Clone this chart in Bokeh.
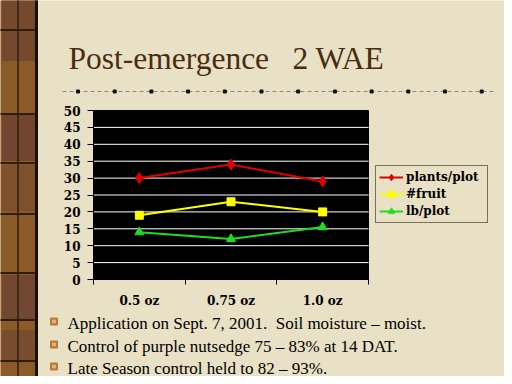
from bokeh.plotting import figure
from bokeh.models import (Range1d, FixedTicker, Legend, LegendItem, LinearAxis)
from bokeh.core.properties import value
from bokeh.embed import file_html
from bokeh.resources import INLINE

# ---- data ----
categories = ["0.5 oz", "0.75 oz", "1.0 oz"]
plants_plot = [30, 34, 29]
fruit = [19, 23, 20]
lb_plot = [14, 12, 15.5]
series_names = ["plants/plot", "#fruit", "lb/plot"]
y_ticks = [0, 5, 10, 15, 20, 25, 30, 35, 40, 45, 50]
title_parts = ["Post-emergence", "2 WAE"]
bullet_texts = [
    "Application on Sept. 7, 2001.\u00a0 Soil moisture \u2013 moist.",
    "Control of purple nutsedge 75 \u2013 83% at 14 DAT.",
    "Late Season control held to 82 \u2013 93%.",
]

# ---- style / layout (picture pixels) ----
BG = "#e8e1c5"
RED = "#e00000"
YELLOW = "#ffff00"
GREEN = "#20dd20"
AXFONT = "DejaVu Serif"
W, H = 504, 376
PL, PR, PT, PB = 93, 368, 110, 279   # chart area in pixels

n = len(categories)
ymin, ymax = y_ticks[0], y_ticks[-1]
kx = (PR - PL) / n
ky = (PB - PT) / (ymax - ymin)
x_range = Range1d(-PL / kx, n + (W - PR) / kx)
y_range = Range1d(ymin - (H - PB) / ky, ymax + PT / ky)

p = figure(width=W, height=H, output_backend="svg", toolbar_location=None,
           x_range=x_range, y_range=y_range,
           x_axis_location=None, y_axis_location=None,
           min_border=0, min_border_left=0, min_border_right=0,
           min_border_top=0, min_border_bottom=0,
           background_fill_color=BG, border_fill_color=BG,
           outline_line_color=None)
p.grid.visible = False
p.extra_x_ranges = {"px": Range1d(0, W)}
p.extra_y_ranges = {"py": Range1d(H, 0)}
PX = dict(x_range_name="px", y_range_name="py")

# ---- decorations (pixel coordinates) ----
p.quad(left=[-20], right=[36], top=[-20], bottom=[400], color="#8a5a28", **PX)
p.quad(left=[2] * 5, right=[34] * 5,
       top=[-20, 115, 165, 275, 330], bottom=[60, 160, 210, 318, 360],
       color=["#6e4530", "#6a4032", "#7a4e2c", "#6c4434", "#734a30"], alpha=0.8, **PX)
p.quad(left=[17], right=[18], top=[-20], bottom=[400], color="#3a2010", alpha=0.7, **PX)
hl = [29, 113, 162, 213, 272, 319, 360]
p.quad(left=[0] * len(hl), right=[36] * len(hl), top=hl, bottom=[y + 1 for y in hl],
       color="#2e1a0c", alpha=0.9, **PX)
p.quad(left=[35], right=[37], top=[-20], bottom=[400], color="#1a0f05", **PX)

p.line(x=[62, 495], y=[91, 91], line_color="#8a8a80", line_width=1, line_dash="4 3", **PX)
dx = [76 + k * 36.7 for k in range(12)]
p.quad(left=dx, right=[x + 3 for x in dx], top=[89.5] * 12, bottom=[92.5] * 12,
       color="#111111", **PX)

p.text(x=[68, 292], y=[58, 58], text=title_parts, text_font=value("Liberation Serif"),
       text_font_size="31.5px", text_color="#4a2c10", text_baseline="alphabetic", **PX)

by = [322.5, 345.5, 367.5]
p.quad(left=[50] * 3, right=[57] * 3, top=[b - 5 for b in by], bottom=[b + 2 for b in by],
       color="#b87838", **PX)
p.quad(left=[52] * 3, right=[55] * 3, top=[b - 3 for b in by], bottom=[b for b in by],
       color="#e0b070", **PX)
p.text(x=[67] * 3, y=by, text=bullet_texts, text_font=value("Liberation Serif"),
       text_font_size="17px", text_color="black", text_baseline="alphabetic", **PX)

# ---- chart area ----
p.quad(left=[0], right=[n], bottom=[ymin], top=[ymax], color="black")
gt = y_ticks[1:-1]
p.segment(x0=[0] * len(gt), x1=[n] * len(gt), y0=gt, y1=gt, line_color="white", line_width=1)

xs = [i + 0.5 for i in range(n)]

xa = LinearAxis(fixed_location=ymin, bounds=(0, n))
xa.ticker = FixedTicker(ticks=xs, minor_ticks=list(range(n + 1)))
xa.major_label_overrides = {x: c for x, c in zip(xs, categories)}
xa.major_tick_out = 0
xa.major_tick_in = 0
xa.minor_tick_out = 5
xa.minor_tick_in = 0
xa.minor_tick_line_color = "black"
xa.axis_line_color = "black"
xa.major_label_standoff = 9
xa.major_label_text_font = AXFONT
xa.major_label_text_font_style = "bold"
xa.major_label_text_font_size = "12px"
xa.major_label_text_color = "black"
p.add_layout(xa, "below")

ya = LinearAxis(fixed_location=0, bounds=(ymin, ymax))
ya.ticker = FixedTicker(ticks=y_ticks)
ya.major_tick_out = 6
ya.major_tick_in = 0
ya.minor_tick_line_color = None
ya.axis_line_color = "black"
ya.major_tick_line_color = "black"
ya.major_label_standoff = 7
ya.major_label_text_font = AXFONT
ya.major_label_text_font_style = "bold"
ya.major_label_text_font_size = "12px"
ya.major_label_text_color = "black"
p.add_layout(ya, "left")

# ---- series ----
items = []
for name, vals, col, mk, sz in [
    (series_names[0], plants_plot, RED, "diamond", 11),
    (series_names[1], fruit, YELLOW, "square", 8),
    (series_names[2], lb_plot, GREEN, "triangle", 9),
]:
    l = p.line(xs, vals, line_color=col, line_width=2)
    s = p.scatter(xs, vals, marker=mk, size=sz, fill_color=col, line_color=col)
    items.append(LegendItem(label=name, renderers=[l, s]))

legend = Legend(items=items, location=(375, H - 223), padding=3, spacing=1,
                glyph_width=24, glyph_height=16, label_height=16, label_width=78,
                label_standoff=3, label_text_font=AXFONT,
                label_text_font_style="bold", label_text_font_size="12px",
                label_text_color="black", background_fill_alpha=0,
                border_line_color="black", border_line_width=1, margin=0)
p.add_layout(legend)

open("out.html", "w").write(file_html(p, INLINE))
